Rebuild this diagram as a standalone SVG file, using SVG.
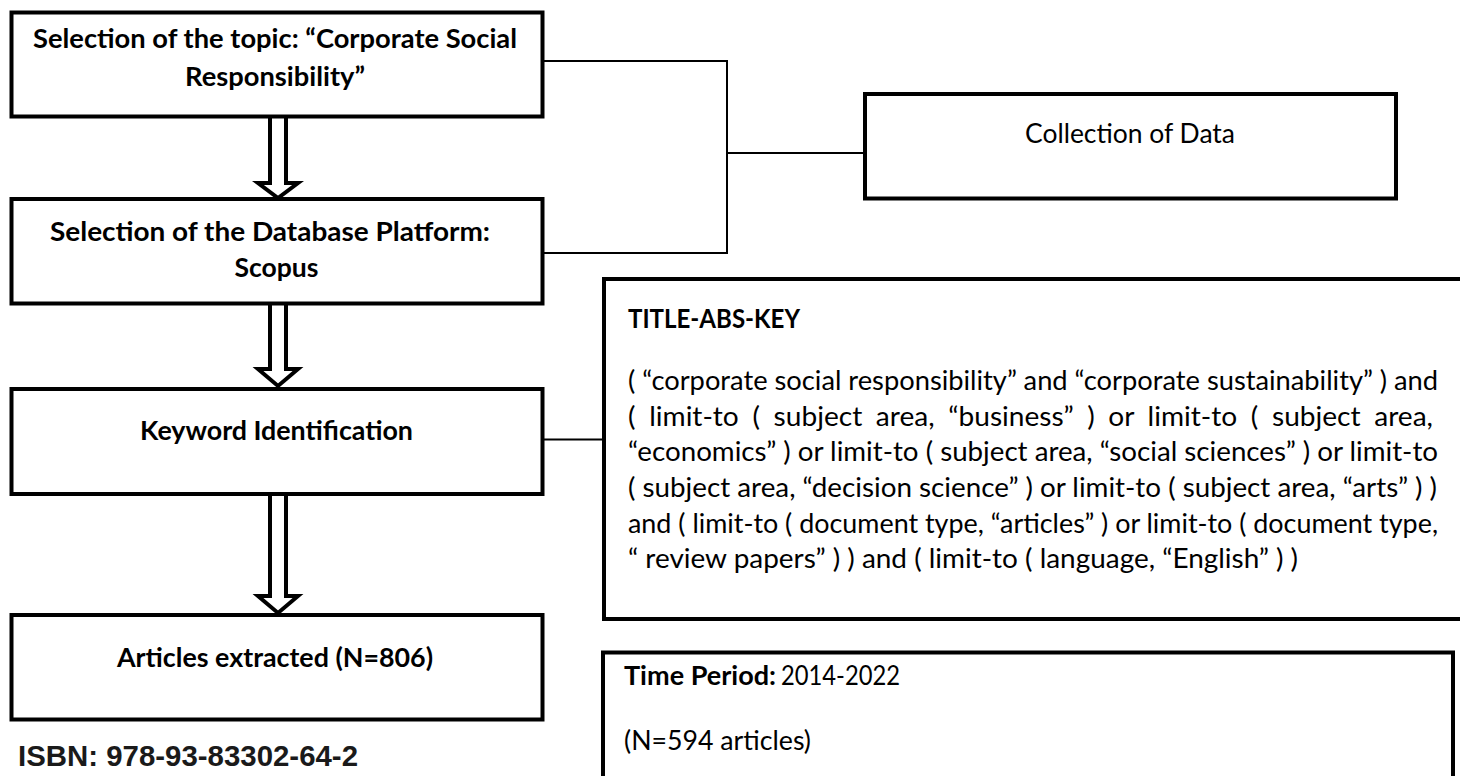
<svg xmlns="http://www.w3.org/2000/svg" width="1460" height="776" viewBox="0 0 1460 776">
<style>
.box{fill:#fff;stroke:#000;stroke-width:4}
.conn{fill:none;stroke:#000;stroke-width:2}
.arrow{fill:#fff;stroke:#000;stroke-width:4;stroke-linejoin:miter}
.b{font-family:Lato,"Liberation Sans",sans-serif;font-weight:bold;font-size:26px;fill:#000}
.r{font-family:Lato,"Liberation Sans",sans-serif;font-weight:normal;font-size:26px;fill:#000}
.c{text-anchor:middle}
.isbn{font-family:"Liberation Sans",sans-serif;font-weight:bold;font-size:29px;fill:#1a1a1a}
</style>
<rect width="1460" height="776" fill="#fff"/>
<g id="connectors">
<polyline class="conn" points="543,61 727,61 727,253 543,253"/>
<line class="conn" x1="727" y1="153" x2="865" y2="153"/>
<line class="conn" x1="543" y1="439.5" x2="604" y2="439.5"/>
<path class="arrow" d="M270,118 V183 H258 L278,198 L298,183 H286 V118"/>
<path class="arrow" d="M270,305 V369 H258 L278,386 L298,369 H286 V305"/>
<path class="arrow" d="M270,496 V596 H258 L278,613 L298,596 H286 V496"/>
</g>
<g id="node-topic">
<rect class="box" x="11.5" y="12.5" width="531" height="104"/>
<text class="b c" x="275" y="48" textLength="484" lengthAdjust="spacingAndGlyphs">Selection of the topic: “Corporate Social</text>
<text class="b c" x="275" y="86" textLength="180" lengthAdjust="spacingAndGlyphs">Responsibility”</text>
</g>
<g id="node-database">
<rect class="box" x="11.5" y="199" width="531" height="104.5"/>
<text class="b c" x="270" y="240.5" textLength="440" lengthAdjust="spacingAndGlyphs">Selection of the Database Platform:</text>
<text class="b c" x="276.5" y="277" textLength="84" lengthAdjust="spacingAndGlyphs">Scopus</text>
</g>
<g id="node-keyword">
<rect class="box" x="11.5" y="389" width="531" height="105"/>
<text class="b c" x="276.5" y="440" textLength="273" lengthAdjust="spacingAndGlyphs">Keyword Identification</text>
</g>
<g id="node-articles">
<rect class="box" x="11.5" y="615" width="531" height="104.5"/>
<text class="b c" x="275" y="666.5" textLength="316" lengthAdjust="spacingAndGlyphs">Articles extracted (N=806)</text>
</g>
<g id="isbn">
<text class="isbn" x="18" y="766" textLength="340" lengthAdjust="spacingAndGlyphs">ISBN: 978-93-83302-64-2</text>
</g>
<g id="node-collection">
<rect class="box" x="865" y="94" width="531" height="104.5"/>
<text class="r c" x="1130" y="143" textLength="210" lengthAdjust="spacingAndGlyphs">Collection of Data</text>
</g>
<g id="node-query">
<rect class="box" x="604" y="279" width="900" height="340"/>
<text class="b" x="628" y="328" textLength="172" lengthAdjust="spacingAndGlyphs">TITLE-ABS-KEY</text>
<text class="r" x="628" y="390" textLength="810" lengthAdjust="spacingAndGlyphs">( “corporate social responsibility” and “corporate sustainability” ) and</text>
<text class="r" x="628" y="425.7" word-spacing="6" textLength="805" lengthAdjust="spacingAndGlyphs">( limit-to ( subject area, “business” ) or limit-to ( subject area,</text>
<text class="r" x="628" y="461.3" textLength="810" lengthAdjust="spacingAndGlyphs">“economics” ) or limit-to ( subject area, “social sciences” ) or limit-to</text>
<text class="r" x="628" y="497" textLength="809" lengthAdjust="spacingAndGlyphs">( subject area, “decision science” ) or limit-to ( subject area, “arts” ) )</text>
<text class="r" x="628" y="532.7" textLength="810" lengthAdjust="spacingAndGlyphs">and ( limit-to ( document type, “articles” ) or limit-to ( document type,</text>
<text class="r" x="628" y="568.3" textLength="670" lengthAdjust="spacingAndGlyphs">“ review papers” ) ) and ( limit-to ( language, “English” ) )</text>
</g>
<g id="node-period">
<rect class="box" x="603" y="652.5" width="850" height="200"/>
<text class="b" x="624" y="685" textLength="152" lengthAdjust="spacingAndGlyphs">Time Period:</text>
<text class="r" x="781" y="685" textLength="119" lengthAdjust="spacingAndGlyphs">2014-2022</text>
<text class="r" x="624" y="750" textLength="187" lengthAdjust="spacingAndGlyphs">(N=594 articles)</text>
</g>
</svg>
